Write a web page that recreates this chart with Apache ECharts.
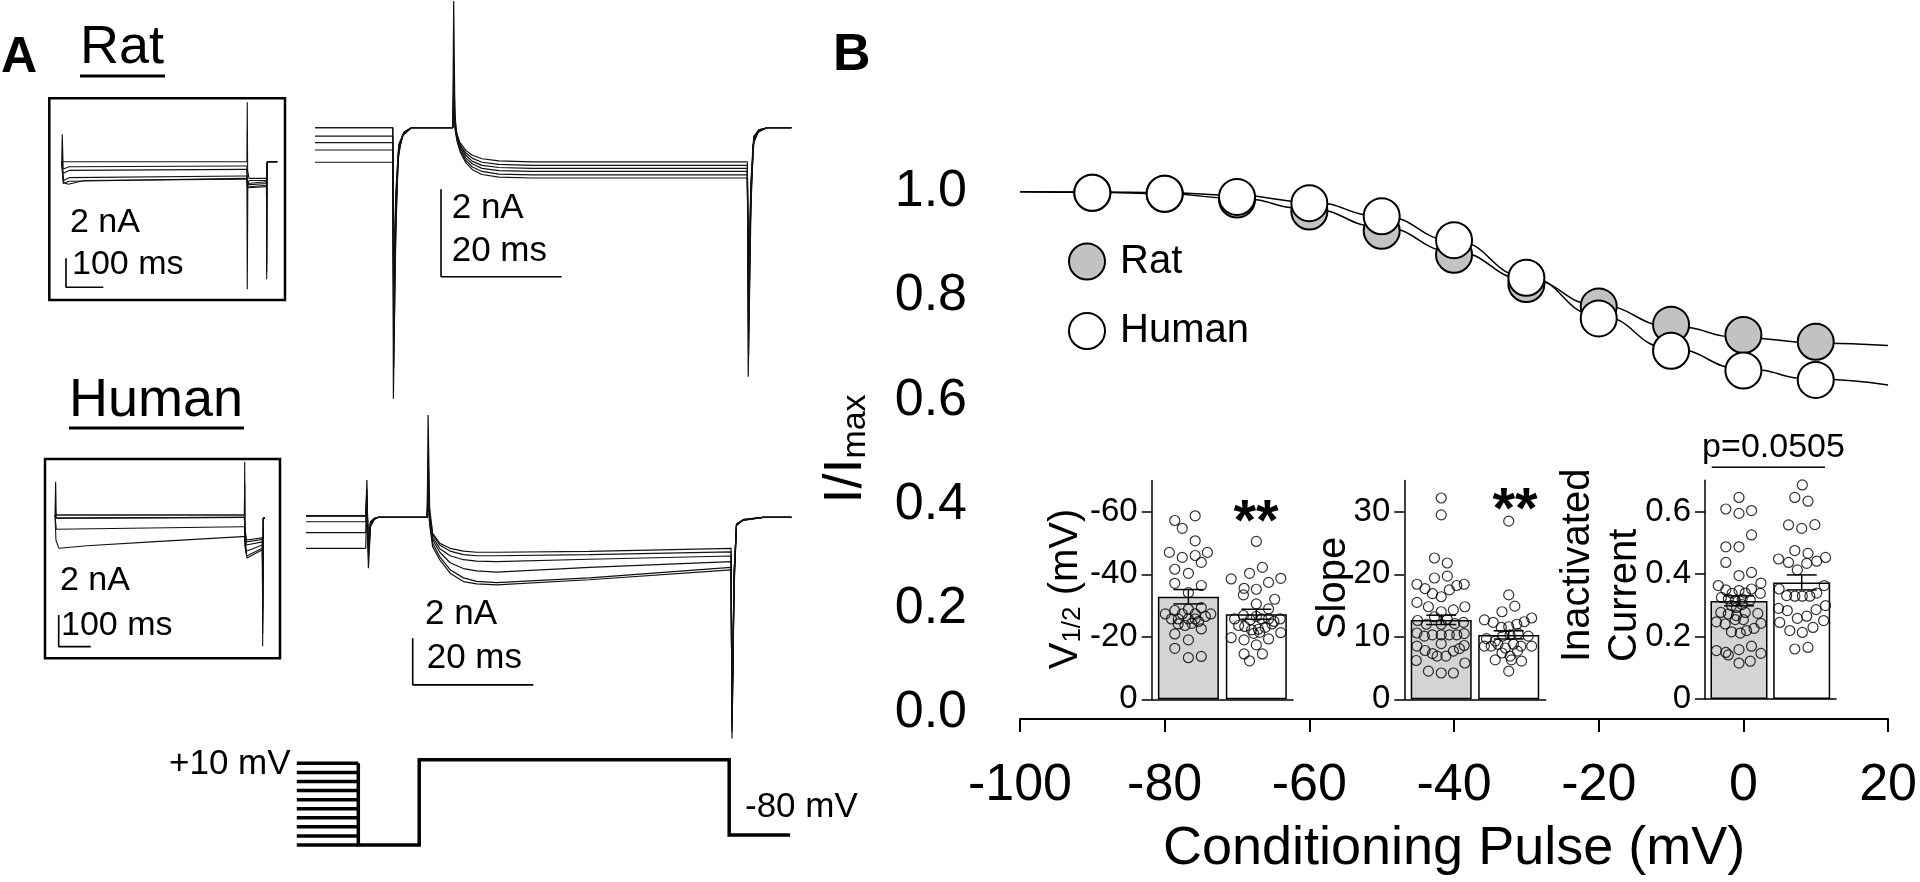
<!DOCTYPE html>
<html><head><meta charset="utf-8">
<script src="https://cdn.jsdelivr.net/npm/echarts@6/dist/echarts.min.js"></script>
<style>html,body{margin:0;padding:0;background:#fff;}#c{width:1920px;height:882px;}</style>
</head><body><div id="c"></div>
<script>
const FONT = '"Liberation Sans", Arial, Helvetica, sans-serif';

// ---------- Panel B: steady-state inactivation ----------
const condV   = [-90,-80,-70,-60,-50,-40,-30,-20,-10,0,10];
const ratI    = [0.998,0.996,0.985,0.962,0.925,0.879,0.823,0.780,0.745,0.725,0.712];
const humanI  = [0.998,0.996,0.990,0.978,0.953,0.907,0.835,0.757,0.695,0.657,0.639];
const fitV    = [-100,-90,-80,-70,-60,-50,-40,-30,-20,-10,0,10,20];
const ratFit  = [1.000,0.999,0.996,0.987,0.967,0.932,0.885,0.832,0.782,0.742,0.720,0.710,0.705];
const humanFit= [1.000,0.9995,0.998,0.993,0.980,0.953,0.906,0.837,0.762,0.699,0.660,0.640,0.629];
const mainYTicks = [0,0.2,0.4,0.6,0.8,1.0];

// ---------- Panel B insets: [jitter offset, value] ----------
const groups = ['Rat','Human'];
const v12Mean = [-32.8,-27.2], v12Sem = [2.3,1.6];
const slopeMean = [12.7,10.3], slopeSem = [0.75,0.65];
const inactMean = [0.314,0.373], inactSem = [0.016,0.024];
const v12Ticks = [-60,-40,-20,0];
const slopeTicks = [0,10,20,30];
const inactTicks = [0,0.2,0.4,0.6];

const ratV12 = [[-0.20,-57.2],[0.10,-58.7],[-0.09,-54.7],[0.10,-50.7],[-0.28,-47.0],[-0.09,-45.4],[0.10,-46.0],[0.28,-47.0],[0.19,-43.8],[-0.20,-41.6],[0,-40.3],[-0.20,-37.1],[0.19,-36.4],[0,-34.1],[-0.34,-27.3],[-0.20,-28.4],[-0.09,-27.3],[0,-28.8],[0.10,-27.3],[0.19,-29.3],[0.33,-27.3],[-0.25,-25.7],[-0.15,-25.7],[0,-25.7],[0.10,-25.7],[0.25,-26.5],[-0.15,-24.1],[-0.05,-23.6],[0.05,-24.3],[0.15,-24.9],[0.19,-22.5],[-0.20,-20.9],[0,-19.0],[-0.20,-16.3],[0,-13.3],[0.19,-13.7]];
const humanV12 = [[0,-50.5],[-0.10,-40.3],[0.09,-42.2],[-0.37,-38.5],[0.18,-37.4],[0.36,-38.7],[-0.18,-35.5],[0,-35.2],[-0.19,-33.4],[0.27,-32.0],[0,-30.5],[0.18,-28.9],[-0.32,-25.7],[-0.19,-26.8],[-0.09,-25.4],[0,-26.5],[0.08,-25.7],[0.18,-25.7],[0.26,-24.9],[0.35,-25.7],[-0.26,-23.6],[-0.17,-23.3],[-0.07,-22.2],[0.03,-22.4],[0.13,-23.0],[0.23,-24.1],[-0.04,-21.1],[0.05,-21.4],[-0.37,-19.7],[-0.18,-19.0],[0.18,-19.3],[0.36,-21.3],[0,-17.4],[-0.18,-14.5],[0.09,-14.5],[-0.10,-12.3]];
const ratSlope = [[0,32.2],[0,29.5],[-0.10,22.6],[0.09,21.8],[-0.10,19.4],[0.09,19.7],[-0.36,18.4],[-0.24,17.7],[-0.13,16.9],[0,16.4],[0.12,17.5],[0.23,18.2],[0.34,18.4],[-0.36,15.5],[-0.19,14.8],[0,14.0],[0.18,14.3],[0.35,14.8],[-0.35,12.6],[-0.22,12.0],[-0.10,13.2],[0,12.0],[0.09,12.8],[0.20,12.1],[0.33,12.3],[-0.36,10.6],[-0.25,10.1],[-0.13,10.3],[0,10.3],[0.12,10.3],[0.23,10.3],[0.34,10.5],[-0.36,8.5],[-0.24,7.8],[-0.13,7.3],[0,8.9],[-0.06,6.9],[0.07,6.9],[0.18,7.7],[0.27,8.1],[0.34,8.6],[-0.37,6.2],[0.35,5.8],[-0.19,4.5],[0,4.2],[0.18,4.2]];
const humanSlope = [[0,28.5],[0,16.7],[0.09,14.9],[-0.10,14.0],[-0.36,12.7],[-0.23,12.3],[-0.11,11.5],[0,11.6],[0.12,12.0],[0.23,12.4],[0.34,13.0],[-0.33,9.7],[-0.20,9.3],[-0.09,10.1],[0.02,10.3],[0.14,10.5],[0.29,10.1],[-0.36,8.5],[-0.26,8.5],[-0.16,8.8],[-0.05,8.2],[0.07,8.8],[0.18,8.5],[0.34,8.5],[-0.10,7.4],[0.02,6.9],[0.13,7.7],[-0.20,6.3],[0.04,6.3],[0.19,6.1],[0,4.5]];
const ratInact = [[0,0.645],[-0.21,0.608],[0,0.594],[0.20,0.603],[0.20,0.525],[-0.21,0.487],[0,0.487],[-0.21,0.437],[0,0.395],[0.20,0.405],[-0.33,0.363],[0.35,0.371],[-0.21,0.349],[-0.11,0.338],[0,0.347],[0.10,0.339],[0.20,0.352],[0.34,0.338],[-0.28,0.325],[-0.17,0.320],[-0.06,0.315],[0.05,0.320],[0.18,0.317],[-0.12,0.299],[-0.04,0.293],[0.05,0.302],[-0.29,0.277],[-0.17,0.272],[-0.04,0.267],[0.10,0.277],[0.30,0.274],[-0.36,0.247],[-0.22,0.240],[-0.06,0.254],[0.07,0.254],[0.35,0.242],[-0.12,0.215],[0.02,0.211],[0.12,0.219],[0.24,0.226],[-0.36,0.155],[-0.21,0.149],[0,0.158],[0.20,0.169],[-0.17,0.141],[0.35,0.146],[0,0.115],[0.18,0.121]];
const humanInact = [[0.01,0.685],[-0.11,0.645],[0.10,0.633],[-0.21,0.557],[0,0.546],[0.21,0.558],[-0.11,0.475],[0.10,0.466],[-0.37,0.448],[-0.21,0.437],[0.08,0.434],[0.24,0.441],[0.38,0.453],[-0.07,0.413],[-0.36,0.352],[-0.24,0.331],[-0.11,0.329],[0.01,0.329],[0.13,0.329],[0.24,0.339],[0.36,0.363],[-0.37,0.290],[-0.23,0.283],[-0.07,0.258],[0.08,0.265],[0.23,0.286],[0.38,0.299],[-0.35,0.245],[-0.19,0.219],[0.01,0.213],[0.18,0.229],[0.35,0.251],[-0.11,0.160],[0.10,0.165]];

// ---------- Panel A: current traces [ms, nA] ----------
const ratInsetSweeps = [
 [[0,0],[490,0],[496.5,0],[497.5,4.1],[498.5,-0.6],[502,-1.15],[549,-1.15],[549.6,-8.1],[550.5,-0.2],[552,0],[578,0]],
 [[0,0],[1.5,1.9],[4,-0.5],[20,-0.35],[490,-0.3],[496.5,-0.3],[497.5,-8.8],[499,-1.6],[502,-1.3],[549,-1.28],[549.6,-7.6],[550.5,-0.2],[552,0],[578,0]],
 [[0,0],[4,-0.8],[20,-0.6],[490,-0.53],[496.5,-0.53],[498,-1.5],[502,-1.4],[549,-1.38],[549.6,-7.0],[551,0],[578,0]],
 [[0,0],[4,-1.3],[20,-1.1],[490,-0.99],[496.5,-0.99],[498,-1.6],[549,-1.5],[551,0],[578,0]],
 [[0,0],[4,-1.5],[20,-1.35],[490,-1.15],[496.5,-1.15],[498,-1.75],[549,-1.62],[551,0],[578,0]],
 [[0,0],[6,-1.45],[18,-1.56],[60,-1.3],[490,-1.2],[496.5,-1.2],[498,-1.8],[549,-1.72],[551,0],[578,0]]
];
const ratMainSweeps = [
 [[0,0],[12.9,0],[13.0,-6.2],[13.3,-3.0],[13.7,-0.8],[14.4,-0.2],[16,0],[22.85,0],[23.0,2.9],[23.2,0.3],[23.5,-0.12],[24.0,-0.33],[25.0,-0.52],[26.1,-0.63],[27.7,-0.71],[30.5,-0.76],[36,-0.78],[71.7,-0.78],[71.85,-5.7],[72.2,-2.2],[72.6,-0.4],[73.5,-0.1],[75,0],[79,0]],
 [[0,0],[12.9,0],[13.05,-5.5],[13.4,-2.4],[13.8,-0.6],[14.6,-0.15],[16,0],[22.85,0],[23.0,1.3],[23.25,0.1],[23.5,-0.15],[24.0,-0.38],[25.0,-0.58],[26.1,-0.70],[27.7,-0.79],[30.5,-0.84],[36,-0.86],[71.7,-0.86],[71.9,-5.2],[72.3,-1.8],[72.7,-0.3],[73.6,-0.08],[75,0],[79,0]],
 [[0,-0.19],[12.9,-0.19],[13.05,-4.8],[13.4,-2.0],[13.9,-0.5],[14.7,-0.12],[16,0],[22.85,0],[23.0,0.8],[23.3,0.0],[23.6,-0.2],[24.1,-0.42],[25.0,-0.63],[26.1,-0.77],[27.7,-0.86],[30.5,-0.91],[36,-0.93],[71.7,-0.93],[71.9,-4.6],[72.3,-1.5],[72.8,-0.25],[73.6,-0.07],[75,0],[79,0]],
 [[0,-0.34],[12.9,-0.34],[13.05,-4.2],[13.4,-1.8],[13.9,-0.45],[14.8,-0.1],[16,0],[22.85,0],[23.0,0.6],[23.3,-0.05],[23.6,-0.25],[24.1,-0.47],[25.0,-0.69],[26.1,-0.83],[27.7,-0.93],[30.5,-0.98],[36,-1.0],[71.7,-1.0],[71.9,-4.2],[72.3,-1.4],[72.8,-0.22],[73.6,-0.06],[75,0],[79,0]],
 [[0,-0.51],[12.9,-0.51],[13.05,-3.8],[13.4,-1.6],[13.9,-0.4],[14.8,-0.1],[16,0],[22.85,0],[23.0,0.5],[23.3,-0.08],[23.6,-0.3],[24.1,-0.52],[25.0,-0.75],[26.1,-0.9],[27.7,-1.0],[30.5,-1.06],[36,-1.08],[71.7,-1.08],[71.9,-3.8],[72.3,-1.3],[72.8,-0.2],[73.6,-0.05],[75,0],[79,0]],
 [[0,-0.79],[12.9,-0.79],[13.05,-3.4],[13.4,-1.5],[13.9,-0.38],[14.8,-0.1],[16,0],[22.85,0],[23.0,0.4],[23.3,-0.1],[23.6,-0.33],[24.1,-0.56],[25.0,-0.8],[26.1,-0.96],[27.7,-1.07],[30.5,-1.13],[36,-1.15],[71.7,-1.15],[71.9,-3.4],[72.3,-1.2],[72.8,-0.2],[73.6,-0.05],[75,0],[79,0]]
];
const humanInsetSweeps = [
 [[0,0],[583,0],[590,0],[591,3.37],[592,-0.8],[596,-1.58],[646,-1.45],[647,-8.3],[649,-0.2],[654,-0.2]],
 [[0,0],[583,0],[590,0],[591,2.0],[592,-1.0],[596,-1.7],[646,-1.55],[647,-7.5],[649,-0.2],[654,-0.2]],
 [[0,0],[2,2.1],[4,-0.2],[583,-0.15],[590,-0.15],[592,-1.2],[596,-1.9],[646,-1.7],[647,-6.8],[649,-0.2],[654,-0.2]],
 [[0,0],[3,-0.2],[583,-0.15],[590,-0.15],[592,-1.4],[596,-2.3],[646,-1.9],[647.5,-6.0],[649,-0.2],[654,-0.2]],
 [[0,0],[4,-0.9],[583,-0.74],[590,-0.74],[592,-1.8],[597,-2.6],[646,-2.1],[647.5,-5.0],[649,-0.2],[654,-0.2]],
 [[0,0],[3,-1.6],[12,-2.1],[100,-1.95],[300,-1.7],[583,-1.37],[590,-1.37],[592,-2.0],[598,-2.72],[646,-2.2],[648,-4.0],[649,-0.2],[654,-0.2]]
];
const humanMainSweeps = [
 [[0,0.06],[9.9,0.06],[10.1,1.6],[10.35,-2.19],[10.7,-0.4],[11.3,-0.1],[12,0],[20.1,0],[20.25,4.39],[20.5,0.4],[21.0,-0.69],[22.2,-1.12],[23.9,-1.33],[26.1,-1.45],[28.3,-1.5],[31.6,-1.5],[47,-1.46],[70.5,-1.33],[70.65,-9.49],[71.0,-3.0],[71.4,-0.35],[72.5,-0.13],[75.8,0],[80.5,0]],
 [[0,0.06],[9.9,0.06],[10.1,1.2],[10.35,-1.8],[10.7,-0.3],[11.3,-0.08],[12,0],[20.1,0],[20.25,2.67],[20.5,0.2],[21.0,-0.75],[22.2,-1.2],[23.9,-1.45],[26.1,-1.6],[28.3,-1.65],[31.6,-1.65],[47,-1.6],[70.5,-1.48],[70.65,-9.2],[71.0,-2.8],[71.4,-0.33],[72.5,-0.12],[75.8,0],[80.5,0]],
 [[0,0.06],[9.9,0.06],[10.1,0.9],[10.35,-1.5],[10.7,-0.25],[11.3,-0.06],[12,0],[20.1,0],[20.25,1.47],[20.5,0.0],[21.0,-0.85],[22.2,-1.35],[23.9,-1.65],[26.1,-1.82],[28.3,-1.88],[31.6,-1.9],[47,-1.8],[70.5,-1.66],[70.65,-9.0],[71.0,-2.6],[71.4,-0.3],[72.5,-0.12],[75.8,0],[80.5,0]],
 [[0,-0.19],[9.9,-0.19],[10.1,0.8],[10.35,-1.4],[10.7,-0.22],[11.3,-0.05],[12,0],[20.1,0],[20.25,1.2],[20.5,-0.1],[21.0,-0.95],[22.2,-1.5],[23.9,-1.95],[26.1,-2.2],[28.3,-2.3],[31.6,-2.35],[47,-2.15],[70.5,-1.9],[70.65,-8.8],[71.0,-2.5],[71.4,-0.3],[72.5,-0.1],[75.8,0],[80.5,0]],
 [[0,-0.66],[9.9,-0.66],[10.1,0.6],[10.35,-1.3],[10.7,-0.2],[11.3,-0.05],[12,0],[20.1,0],[20.25,1.0],[20.5,-0.2],[21.0,-1.1],[22.2,-1.7],[23.9,-2.25],[26.1,-2.6],[28.3,-2.75],[31.6,-2.8],[47,-2.6],[70.5,-2.15],[70.65,-8.6],[71.0,-2.4],[71.4,-0.3],[72.5,-0.1],[75.8,0],[80.5,0]],
 [[0,-1.33],[9.9,-1.33],[10.1,0.4],[10.35,-1.2],[10.7,-0.2],[11.3,-0.05],[12,0],[20.1,0],[20.25,0.9],[20.5,-0.3],[21.0,-1.26],[22.2,-1.83],[23.9,-2.4],[26.1,-2.76],[28.3,-2.86],[31.6,-2.9],[47,-2.68],[70.5,-2.26],[70.65,-8.4],[71.0,-2.3],[71.4,-0.3],[72.5,-0.1],[75.8,0],[80.5,0]]
];
// scale bars [ms, nA]
const ratInsetScale   = [[11.5,-6.66],[11.5,-8.66],[111.5,-8.66]];
const humanInsetScale = [[11.5,-6.33],[11.5,-8.33],[111.5,-8.33]];
const ratMainScale    = [[20.9,-1.41],[20.9,-3.41],[40.9,-3.41]];
const humanMainScale  = [[17.7,-5.19],[17.7,-7.19],[37.7,-7.19]];
// voltage protocol [ms, mV]
const protocolLadder = [10,0,-10,-20,-30,-40,-50,-60,-70,-80];
const ladderEnd = 10.2;
const protocolPath = [[10.2,10],[10.2,-80],[20.3,-80],[20.3,14],[71.7,14],[71.7,-69],[81.8,-69]];

// ---------- build ----------
const chart = echarts.init(document.getElementById('c'), null, {renderer:'canvas'});
const BLACK = '#000';
const MAIN_W = 870, X_MIN = -100, X_MAX = 20;
const Y_OFFSET_PX = 13, Y_TICK_PX = 12;
const mvPerPx = (X_MAX - X_MIN) / MAIN_W;
const yAxisX = X_MIN - Y_OFFSET_PX * mvPerPx;          // offset y-axis position in mV units
const yTickX = yAxisX - Y_TICK_PX * mvPerPx;
const grids = [
  {left:1020, top:191.7, width:MAIN_W, height:521.3},
  {left:1151.7, top:480.5, width:141.3, height:218.75},
  {left:1404.3, top:480.5, width:141.4, height:218.75},
  {left:1705, top:480.25, width:131, height:218.75},
  {left:61.7, top:100.8, width:223.8, height:191.4},
  {left:315, top:1, width:482.4, height:410.8},
  {left:55, top:459.7, width:224.7, height:197.5},
  {left:306, top:400.8, width:488.4, height:349.5},
  {left:296.8, top:754.3, width:494.5, height:95.2},
  {left:1007, top:191.7, width:13, height:521.3}
];
const hiddenX = (gi,min,max)=>({gridIndex:gi,type:'value',min,max,show:false});
const hiddenY = (gi,min,max)=>({gridIndex:gi,type:'value',min,max,show:false});
const insetX = (gi,min,max)=>({gridIndex:gi,type:'value',min,max,axisLine:{show:true,onZero:true,lineStyle:{color:BLACK,width:1.5}},axisTick:{show:false},axisLabel:{show:false},splitLine:{show:false}});
const tickY = (gi,min,max,ticks,o)=>({gridIndex:gi,type:'value',min,max,inverse:!!o.inverse,
  axisLine:{show:o.line!==false,onZero:false,lineStyle:{color:BLACK,width:o.w}},
  axisTick:{show:o.line!==false,length:o.tl,customValues:ticks,lineStyle:{color:BLACK,width:o.w}},
  axisLabel:{customValues:ticks,color:BLACK,fontSize:o.fs,fontFamily:FONT,margin:o.m,formatter:o.fmt},
  splitLine:{show:false}});

const xAxes = [
  {gridIndex:0,type:'value',min:X_MIN,max:X_MAX,interval:20,offset:6,
   axisLine:{show:true,onZero:false,lineStyle:{color:BLACK,width:2}},
   axisTick:{show:true,length:13,lineStyle:{color:BLACK,width:2}},
   axisLabel:{color:BLACK,fontSize:52,fontFamily:FONT,margin:41},
   splitLine:{show:false},
   name:'Conditioning Pulse (mV)',nameLocation:'middle',nameGap:103,
   nameTextStyle:{color:BLACK,fontSize:54,fontFamily:FONT}},
  insetX(1,0.46,2.54), insetX(2,0.453,2.548), insetX(3,0.458,2.547),
  hiddenX(4,0,600), hiddenX(5,0,80), hiddenX(6,0,700), hiddenX(7,0,81), hiddenX(8,0,82),
  {gridIndex:9,type:'value',min:0.5,max:1,axisLine:{show:false},axisTick:{show:false},axisLabel:{show:false},splitLine:{show:false}}
];
const yAxes = [
  hiddenY(0,0,1),
  tickY(1,-70,0,v12Ticks,{inverse:true,w:1.5,tl:10,fs:33,m:14}),
  tickY(2,0,35,slopeTicks,{w:1.5,tl:10,fs:33,m:14}),
  tickY(3,0,0.7,inactTicks,{w:1.5,tl:10,fs:33,m:14}),
  hiddenY(4,-9,4.2), hiddenY(5,-6.5,2.9), hiddenY(6,-9,3.5), hiddenY(7,-10,5), hiddenY(8,-85,20),
  tickY(9,0,1,mainYTicks,{line:false,w:2,tl:12,fs:52,m:40,fmt:v=>v.toFixed(1)})
];

const series = [];
// panel B offset y-axis line and ticks, drawn on the main grid's own scales
series.push({type:'line',xAxisIndex:0,yAxisIndex:0,data:[[yAxisX,0],[yAxisX,1]],symbol:'none',showSymbol:false,
  lineStyle:{color:BLACK,width:2,cap:'square'},clip:false,silent:true,z:6});
mainYTicks.forEach(v=>series.push({type:'line',xAxisIndex:0,yAxisIndex:0,data:[[yTickX,v],[yAxisX,v]],symbol:'none',showSymbol:false,
  lineStyle:{color:BLACK,width:2},clip:false,silent:true,z:6}));

series.push({type:'line',name:'Rat fit',xAxisIndex:0,yAxisIndex:0,data:fitV.map((v,i)=>[v,ratFit[i]]),smooth:true,smoothMonotone:'x',showSymbol:false,symbol:'none',lineStyle:{color:BLACK,width:1.5},z:2,clip:false,silent:true});
series.push({type:'line',name:'Human fit',xAxisIndex:0,yAxisIndex:0,data:fitV.map((v,i)=>[v,humanFit[i]]),smooth:true,smoothMonotone:'x',showSymbol:false,symbol:'none',lineStyle:{color:BLACK,width:1.5},z:2,clip:false,silent:true});
series.push({type:'scatter',name:'Rat',xAxisIndex:0,yAxisIndex:0,data:condV.map((v,i)=>[v,ratI[i]]),symbol:'circle',symbolSize:36,itemStyle:{color:'#c2c2c2',borderColor:BLACK,borderWidth:2,opacity:1},z:3,clip:false});
series.push({type:'scatter',name:'Human',xAxisIndex:0,yAxisIndex:0,data:condV.map((v,i)=>[v,humanI[i]]),symbol:'circle',symbolSize:36,itemStyle:{color:'#ffffff',borderColor:BLACK,borderWidth:2,opacity:1},z:4,clip:false});
series.push({type:'scatter',xAxisIndex:9,yAxisIndex:9,data:[],silent:true});

const insetColors = ['#d4d4d4','#ffffff'];
function errRender(capHalf){
  return function(params, api){
    const x=api.value(0), m=api.value(1), e=api.value(2);
    const p1=api.coord([x,m-e]), p2=api.coord([x,m+e]);
    const st={stroke:BLACK,lineWidth:1.5};
    return {type:'group',children:[
      {type:'line',shape:{x1:p1[0],y1:p1[1],x2:p2[0],y2:p2[1]},style:st},
      {type:'line',shape:{x1:p1[0]-capHalf,y1:p1[1],x2:p1[0]+capHalf,y2:p1[1]},style:st},
      {type:'line',shape:{x1:p2[0]-capHalf,y1:p2[1],x2:p2[0]+capHalf,y2:p2[1]},style:st}]};
  };
}
function addInset(gi, means, sems, ratPts, humPts, barW, capHalf){
  series.push({type:'bar',xAxisIndex:gi,yAxisIndex:gi,barWidth:barW,silent:true,
    data:means.map((m,i)=>({value:[i+1,m],itemStyle:{color:insetColors[i],borderColor:BLACK,borderWidth:1.5}})),z:2});
  series.push({type:'custom',xAxisIndex:gi,yAxisIndex:gi,renderItem:errRender(capHalf),
    data:means.map((m,i)=>[i+1,m,sems[i]]),z:3,silent:true});
  const pts=[].concat(ratPts.map(p=>[1+p[0],p[1]]), humPts.map(p=>[2+p[0],p[1]]));
  series.push({type:'scatter',xAxisIndex:gi,yAxisIndex:gi,data:pts,symbol:'circle',symbolSize:10,
    itemStyle:{color:'rgba(255,255,255,0)',borderColor:BLACK,borderWidth:1.2},z:4,clip:false,silent:true});
}
addInset(1, v12Mean, v12Sem, ratV12, humanV12, 61, 15);
addInset(2, slopeMean, slopeSem, ratSlope, humanSlope, 61, 15);
addInset(3, inactMean, inactSem, ratInact, humanInact, 57, 15);

function addTraces(gi, sweeps, scale, lw){
  sweeps.forEach(s=>series.push({type:'line',xAxisIndex:gi,yAxisIndex:gi,data:s,symbol:'none',showSymbol:false,
    lineStyle:{color:'#111',width:lw},clip:false,silent:true,z:2}));
  series.push({type:'line',xAxisIndex:gi,yAxisIndex:gi,data:scale,symbol:'none',showSymbol:false,
    lineStyle:{color:BLACK,width:1.6},clip:false,silent:true,z:2});
}
addTraces(4, ratInsetSweeps, ratInsetScale, 1.1);
addTraces(5, ratMainSweeps, ratMainScale, 1.2);
addTraces(6, humanInsetSweeps, humanInsetScale, 1.1);
addTraces(7, humanMainSweeps, humanMainScale, 1.2);
protocolLadder.forEach(v=>series.push({type:'line',xAxisIndex:8,yAxisIndex:8,data:[[0,v],[ladderEnd,v]],symbol:'none',showSymbol:false,lineStyle:{color:BLACK,width:3.5},clip:false,silent:true}));
series.push({type:'line',xAxisIndex:8,yAxisIndex:8,data:protocolPath,symbol:'none',showSymbol:false,lineStyle:{color:BLACK,width:3.5,join:'miter'},clip:false,silent:true});

const txt=(x,y,text,size,o={})=>({type:'text',x,y,rotation:o.rot||0,z:100,silent:true,
  style:{text,fill:BLACK,fontSize:size,fontFamily:FONT,fontWeight:o.bold?'bold':'normal',
         align:o.align||'left',verticalAlign:o.va||'middle',lineHeight:o.lh,rich:o.rich}});
const ln=(x1,y1,x2,y2,w)=>({type:'line',z:100,silent:true,shape:{x1,y1,x2,y2},style:{stroke:BLACK,lineWidth:w}});
const rc=(x,y,w,h,lw)=>({type:'rect',z:100,silent:true,shape:{x,y,width:w,height:h},style:{fill:null,stroke:BLACK,lineWidth:lw}});
const graphic=[
  txt(1,58,'A',50,{bold:true}),
  txt(80,48,'Rat',54), ln(80,76,165,76,3),
  txt(69,401.5,'Human',54), ln(69,428,244,428,3),
  rc(49.3,98.3,235.7,201.7,2.5), rc(45,459,235,199.3,2.5),
  txt(70,222.5,'2 nA',34), txt(72,265,'100 ms',34),
  txt(60,580.5,'2 nA',34), txt(61,626,'100 ms',34),
  txt(451.7,208.3,'2 nA',35), txt(451.7,251.7,'20 ms',35),
  txt(425,614,'2 nA',35), txt(426.7,658,'20 ms',35),
  txt(169,764,'+10 mV',35), txt(745,807.5,'-80 mV',35),
  txt(833,56,'B',52,{bold:true}),
  txt(843,449,'{a|I/I}{b|max}',54,{rot:Math.PI/2,align:'center',
      rich:{a:{fontSize:54,fontFamily:FONT,fill:BLACK,lineHeight:60,verticalAlign:'bottom'},
            b:{fontSize:34,fontFamily:FONT,fill:BLACK,lineHeight:34,verticalAlign:'bottom'}}}),
  txt(1256,524,'**',58,{bold:true,align:'center'}),
  txt(1515,512,'**',58,{bold:true,align:'center'}),
  txt(1773.5,448,'p=0.0505',34,{align:'center'}), ln(1711.7,467.3,1825,467.3,1.5),
  txt(1064,589,'{a|V}{b|1/2}{a| (mV)}',40,{rot:Math.PI/2,align:'center',
      rich:{a:{fontSize:40,fontFamily:FONT,fill:BLACK,lineHeight:44,verticalAlign:'bottom'},
            b:{fontSize:26,fontFamily:FONT,fill:BLACK,lineHeight:26,verticalAlign:'bottom'}}}),
  txt(1334,588,'Slope',40,{rot:Math.PI/2,align:'center'}),
  txt(1601.5,662,'Inactivated\nCurrent',40,{rot:Math.PI/2,align:'left',lh:47})
];

chart.setOption({
  animation:false,
  backgroundColor:'#fff',
  textStyle:{fontFamily:FONT},
  grid:grids.map(g=>Object.assign({containLabel:false},g)),
  xAxis:xAxes, yAxis:yAxes,
  legend:{show:true,orient:'vertical',left:1063,top:236.5,itemWidth:36,itemHeight:36,itemGap:29.5,
    textStyle:{color:BLACK,fontSize:40,fontFamily:FONT,padding:[0,0,0,10]},selectedMode:false,
    data:[{name:'Rat',icon:'circle',itemStyle:{color:'#c2c2c2',borderColor:BLACK,borderWidth:2}},
          {name:'Human',icon:'circle',itemStyle:{color:'#ffffff',borderColor:BLACK,borderWidth:2}}]},
  series:series,
  graphic:graphic
});
</script>
</body></html>
